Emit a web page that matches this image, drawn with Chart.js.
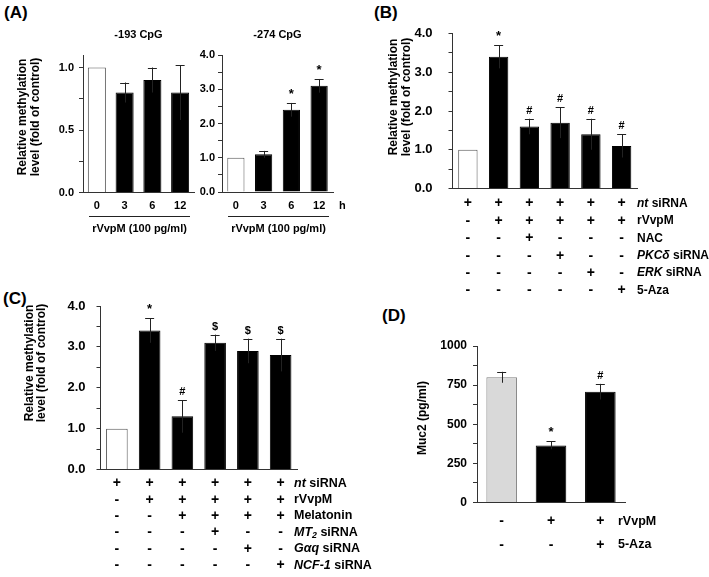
<!DOCTYPE html>
<html lang="en">
<head>
<meta charset="UTF-8">
<title>rVvpM promoter methylation and Muc2</title>
<script src="https://cdn.jsdelivr.net/npm/chart.js@4.4.0/dist/chart.umd.min.js"></script>
<style>
  body { margin: 0; background: #fff; }
  #wrap { position: relative; width: 709px; height: 577px; overflow: hidden;
          font-family: "Liberation Sans", Arial, sans-serif; }
  #wrap canvas { position: absolute; left: 0; top: 0; }
  .tag { position: absolute; font-weight: bold; font-size: 17px; line-height: 1; color: #000; }
</style>
</head>
<body>
<div id="wrap">
  <div class="tag" style="left:4px;top:4px">(A)</div>
  <div class="tag" style="left:374px;top:4px">(B)</div>
  <div class="tag" style="left:3px;top:290px">(C)</div>
  <div class="tag" style="left:382px;top:307px">(D)</div>
  <canvas id="chartA1" width="709" height="577"></canvas>
  <canvas id="chartA2" width="709" height="577"></canvas>
  <canvas id="chartB" width="709" height="577"></canvas>
  <canvas id="chartC" width="709" height="577"></canvas>
  <canvas id="chartD" width="709" height="577"></canvas>
</div>
<script>
// ---- data ----
const aTimes = ['0', '3', '6', '12'];
const a193Values = [1.0, 0.8, 0.9, 0.8];
const a193Errors = [0, 0.08, 0.1, 0.22];
const a193Marks = ['', '', '', ''];
const a274Values = [1.0, 1.1, 2.4, 3.1];
const a274Errors = [0, 0.1, 0.2, 0.2];
const a274Marks = ['', '', '*', '*'];

const bGroups = ['g1', 'g2', 'g3', 'g4', 'g5', 'g6'];
const bValues = [1.0, 3.4, 1.6, 1.7, 1.4, 1.1];
const bErrors = [0, 0.3, 0.2, 0.4, 0.4, 0.3];
const bMarks = ['', '*', '#', '#', '#', '#'];
const bRowLabels = [
  [['nt', 'i'], [' siRNA', '']],
  [['rVvpM', '']],
  [['NAC', '']],
  [['PKC\u03b4', 'i'], [' siRNA', '']],
  [['ERK', 'i'], [' siRNA', '']],
  [['5-Aza', '']]
];
const bRowSigns = [
  ['+', '+', '+', '+', '+', '+'],
  ['-', '+', '+', '+', '+', '+'],
  ['-', '-', '+', '-', '-', '-'],
  ['-', '-', '-', '+', '-', '-'],
  ['-', '-', '-', '-', '+', '-'],
  ['-', '-', '-', '-', '-', '+']
];

const cGroups = ['g1', 'g2', 'g3', 'g4', 'g5', 'g6'];
const cValues = [1.0, 3.4, 1.3, 3.1, 2.9, 2.8];
const cErrors = [0, 0.3, 0.4, 0.2, 0.3, 0.4];
const cMarks = ['', '*', '#', '$', '$', '$'];
const cRowLabels = [
  [['nt', 'i'], [' siRNA', '']],
  [['rVvpM', '']],
  [['Melatonin', '']],
  [['MT', 'i'], ['2', 'is'], [' siRNA', '']],
  [['G\u03b1q', 'i'], [' siRNA', '']],
  [['NCF-1', 'i'], [' siRNA', '']]
];
const cRowSigns = [
  ['+', '+', '+', '+', '+', '+'],
  ['-', '+', '+', '+', '+', '+'],
  ['-', '-', '+', '+', '+', '+'],
  ['-', '-', '-', '+', '-', '-'],
  ['-', '-', '-', '-', '+', '-'],
  ['-', '-', '-', '-', '-', '+']
];

const dGroups = ['g1', 'g2', 'g3'];
const dValues = [800, 365, 708];
const dErrors = [35, 25, 50];
const dMarks = ['', '*', '#'];
const dRowLabels = [[['rVvpM', '']], [['5-Aza', '']]];
const dRowSigns = [['-', '+', '+'], ['-', '-', '+']];

const methylTitle = ['Relative methylation', 'level (fold of control)'];

// ---- drawing ----
const FONT = '"Liberation Sans", Arial, sans-serif';
const W = 709, H = 577, YW = 45, XH = 30;
const AXIS = '#333';
Chart.defaults.font.family = FONT;
Chart.defaults.font.weight = 'bold';
Chart.defaults.color = '#000';

function fillsFor(n, first) {
  return Array.from({ length: n }, (_, i) => i === 0 ? first : '#000');
}

function drawSegs(ctx, segs, x, y, size) {
  let cx = x;
  segs.forEach(([t, s]) => {
    const sub = s.includes('s'), it = s.includes('i');
    const fs = sub ? size * 0.7 : size;
    ctx.font = (it ? 'italic ' : '') + 'bold ' + fs + 'px ' + FONT;
    ctx.fillText(t, cx, y + (sub ? size * 0.22 : 0));
    cx += ctx.measureText(t).width;
  });
}

function makeExtras(p) {
  return {
    id: 'extras',
    afterDraw(chart) {
      const ctx = chart.ctx, area = chart.chartArea, ys = chart.scales.y;
      const meta = chart.getDatasetMeta(0);
      ctx.save();
      ctx.fillStyle = '#000';
      // error bars + significance marks
      p.values.forEach((v, i) => {
        const x = meta.data[i].x, e = p.errors[i];
        const top = ys.getPixelForValue(v + e);
        if (e > 0) {
          const bot = ys.getPixelForValue(v - e);
          ctx.strokeStyle = '#222';
          ctx.lineWidth = 1;
          ctx.beginPath();
          ctx.moveTo(Math.round(x) + 0.5, bot);
          ctx.lineTo(Math.round(x) + 0.5, top);
          ctx.moveTo(x - 4.5, Math.round(top) + 0.5);
          ctx.lineTo(x + 4.5, Math.round(top) + 0.5);
          ctx.stroke();
        }
        if (p.marks[i]) {
          ctx.font = 'bold ' + (p.marks[i] === '*' ? 13 : 11) + 'px ' + FONT;
          ctx.textAlign = 'center';
          ctx.textBaseline = 'alphabetic';
          ctx.fillText(p.marks[i], x, top - 5);
        }
      });
      // y axis title
      if (p.yTitle) {
        ctx.font = 'bold 12px ' + FONT;
        ctx.textAlign = 'center';
        ctx.textBaseline = 'middle';
        p.yTitle.lines.forEach((t, k) => {
          ctx.save();
          ctx.translate(p.yTitle.xs[k], p.yTitle.y);
          ctx.rotate(-Math.PI / 2);
          ctx.fillText(t, 0, 0);
          ctx.restore();
        });
      }
      // chart title
      if (p.title) {
        ctx.font = 'bold 11px ' + FONT;
        ctx.textAlign = 'center';
        ctx.textBaseline = 'middle';
        ctx.fillText(p.title, (area.left + area.right) / 2, 35);
      }
      // unit after the last time label
      if (p.unit) {
        ctx.font = 'bold 11px ' + FONT;
        ctx.textAlign = 'left';
        ctx.textBaseline = 'middle';
        ctx.fillText(p.unit, area.right + 6, 205.5);
      }
      // treatment bracket under time axis
      if (p.bracket) {
        const x0 = area.left + 6, x1 = area.right - 4, yl = 216.5;
        ctx.strokeStyle = '#222';
        ctx.lineWidth = 1;
        ctx.beginPath();
        ctx.moveTo(x0, yl);
        ctx.lineTo(x1, yl);
        ctx.stroke();
        ctx.font = 'bold 11px ' + FONT;
        ctx.textAlign = 'center';
        ctx.textBaseline = 'middle';
        ctx.fillText(p.bracket, (x0 + x1) / 2, 229);
      }
      // +/- treatment table
      if (p.rows) {
        p.rows.signs.forEach((row, r) => {
          const y = p.rows.y0 + r * p.rows.gap;
          ctx.font = 'bold 14px ' + FONT;
          ctx.textAlign = 'center';
          ctx.textBaseline = 'middle';
          row.forEach((s, i) => ctx.fillText(s, meta.data[i].x, y));
          ctx.textAlign = 'left';
          drawSegs(ctx, p.rows.labels[r], area.right + p.rows.dx, y, p.rows.size);
        });
      }
      ctx.restore();
    }
  };
}

function buildChart(id, p) {
  return new Chart(document.getElementById(id), {
    type: 'bar',
    data: {
      labels: p.labels,
      datasets: [{
        data: p.values,
        backgroundColor: p.fills,
        borderColor: p.edges,
        borderWidth: 1,
        barPercentage: p.barPct,
        categoryPercentage: 1
      }]
    },
    options: {
      responsive: false,
      animation: false,
      events: [],
      layout: {
        padding: {
          left: p.area.left - YW,
          top: p.area.top,
          right: W - p.area.right,
          bottom: H - p.area.bottom - XH
        }
      },
      plugins: { legend: { display: false }, tooltip: { enabled: false } },
      scales: {
        x: {
          grid: { display: false, drawTicks: false },
          border: { color: AXIS, width: 1 },
          ticks: { display: !!p.showX, padding: 7, maxRotation: 0, font: { size: 11, weight: 'bold' } },
          afterFit: s => { s.height = XH; }
        },
        y: {
          min: 0,
          max: p.yMax,
          grid: { drawOnChartArea: false, drawTicks: true, tickLength: 4, color: AXIS },
          border: { color: AXIS, width: 1 },
          ticks: {
            stepSize: p.yStep,
            includeBounds: false,
            autoSkip: false,
            padding: p.tickPad,
            font: { size: p.tickSize, weight: 'bold' },
            callback: v => {
              const r = v / p.labelStep;
              return Math.abs(r - Math.round(r)) < 1e-6 ? v.toFixed(p.decimals) : '';
            }
          },
          afterFit: s => { s.width = YW; }
        }
      }
    },
    plugins: [makeExtras(p)]
  });
}

// A, -193 CpG
buildChart('chartA1', {
  labels: aTimes, values: a193Values, errors: a193Errors, marks: a193Marks,
  fills: fillsFor(4, '#fff'), edges: fillsFor(4, '#555'),
  area: { left: 83, top: 55, right: 194, bottom: 192.5 },
  yMax: 1.1, yStep: 0.25, labelStep: 0.5, decimals: 1, tickSize: 11, tickPad: 5, barPct: 0.65,
  showX: true, title: '-193 CpG', bracket: 'rVvpM (100 pg/ml)',
  yTitle: { lines: methylTitle, xs: [23, 36], y: 117 }
});

// A, -274 CpG
buildChart('chartA2', {
  labels: aTimes, values: a274Values, errors: a274Errors, marks: a274Marks,
  fills: fillsFor(4, '#fff'), edges: fillsFor(4, '#555'),
  area: { left: 222, top: 55, right: 333, bottom: 192 },
  yMax: 4, yStep: 0.5, labelStep: 1, decimals: 1, tickSize: 11, tickPad: 3, barPct: 0.62,
  showX: true, title: '-274 CpG', unit: 'h', bracket: 'rVvpM (100 pg/ml)'
});

// B
buildChart('chartB', {
  labels: bGroups, values: bValues, errors: bErrors, marks: bMarks,
  fills: fillsFor(6, '#fff'), edges: fillsFor(6, '#555'),
  area: { left: 452.5, top: 33.5, right: 637, bottom: 188.5 },
  yMax: 4, yStep: 0.5, labelStep: 1, decimals: 1, tickSize: 13, tickPad: 16, barPct: 0.63,
  yTitle: { lines: methylTitle, xs: [394, 407], y: 97 },
  rows: { labels: bRowLabels, signs: bRowSigns, y0: 203.5, gap: 17.4, dx: 0, size: 12 }
});

// C
buildChart('chartC', {
  labels: cGroups, values: cValues, errors: cErrors, marks: cMarks,
  fills: fillsFor(6, '#fff'), edges: fillsFor(6, '#555'),
  area: { left: 100.5, top: 306, right: 297, bottom: 469.5 },
  yMax: 4, yStep: 0.5, labelStep: 1, decimals: 1, tickSize: 13, tickPad: 11, barPct: 0.66,
  yTitle: { lines: methylTitle, xs: [30, 42], y: 363 },
  rows: { labels: cRowLabels, signs: cRowSigns, y0: 483.3, gap: 16.35, dx: -3, size: 12.5 }
});

// D
buildChart('chartD', {
  labels: dGroups, values: dValues, errors: dErrors, marks: dMarks,
  fills: fillsFor(3, '#d9d9d9'), edges: fillsFor(3, '#808080'),
  area: { left: 477, top: 346, right: 625, bottom: 502.5 },
  yMax: 1000, yStep: 125, labelStep: 250, decimals: 0, tickSize: 12, tickPad: 6, barPct: 0.62,
  yTitle: { lines: ['Muc2 (pg/ml)'], xs: [423], y: 418 },
  rows: { labels: dRowLabels, signs: dRowSigns, y0: 521.5, gap: 23.5, dx: -7, size: 12.5 }
});
</script>
</body>
</html>
